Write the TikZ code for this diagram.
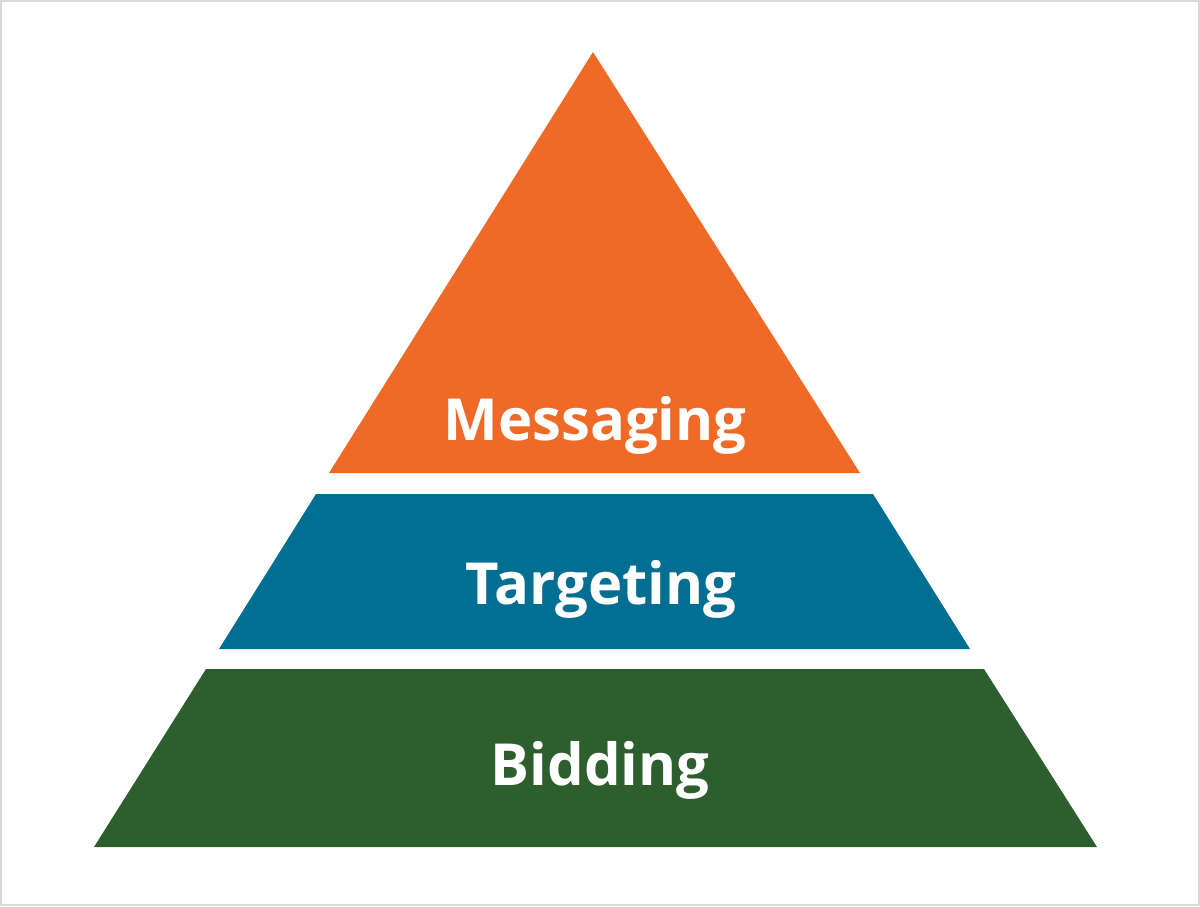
\documentclass[tikz,border=0pt]{standalone}
\usepackage{fontspec}
\setmainfont{Open Sans}
\definecolor{msgorange}{HTML}{EE6A26}
\definecolor{tgtblue}{HTML}{026E91}
\definecolor{bidgreen}{HTML}{2D5F2E}
\definecolor{frame}{HTML}{D9D9D9}
\tikzset{label/.style={text=white, font=\fontsize{58}{60}\selectfont\bfseries, anchor=base}}
\begin{document}
\begin{tikzpicture}[x=1pt,y=-1pt]
        \draw[frame, fill=white, line width=2pt] (1,1) rectangle (1199,905);
        \fill[msgorange] (593,52) -- (860,473) -- (329,473) -- cycle;
        \fill[tgtblue] (316,494) -- (873,494) -- (970,649) -- (219,649) -- cycle;
        \fill[bidgreen] (206,669) -- (984,669) -- (1097,847) -- (94,847) -- cycle;
        \node[label] (messaging) at (595,440) {Messaging};
        \node[label] (targeting) at (601,604) {Targeting};
        \node[label] (bidding) at (600,785) {Bidding};
    \end{tikzpicture}
\end{document}
